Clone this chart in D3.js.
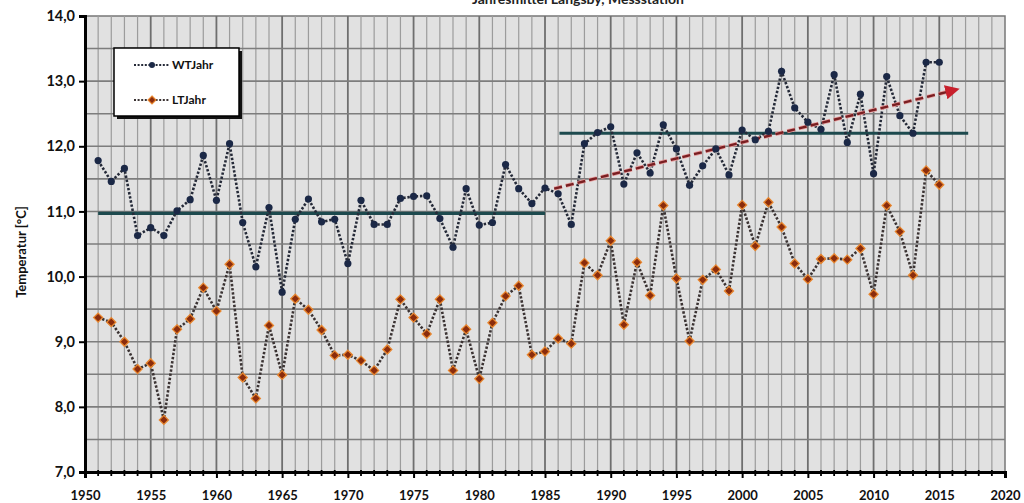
<!DOCTYPE html>
<html>
<head>
<meta charset="utf-8">
<script src="https://cdn.jsdelivr.net/npm/d3@7"></script>
<style>
  body { margin: 0; background: #fff; }
  text { font-family: Lato, "Liberation Sans", sans-serif; }
  .tick text { font-weight: bold; font-size: 13px; fill: #111; }
  .yax .tick text { font-size: 14.5px; }
</style>
</head>
<body>
<div id="chart"></div>
<script>
"use strict";

// years of the measurements
var years = d3.range(1951, 2016);

// WTJahr values, 1951-2015
var wtJahr = [11.78, 11.46, 11.66, 10.63, 10.75, 10.63, 11.01, 11.18, 11.86, 11.17,
  12.04, 10.83, 10.15, 11.06, 9.76, 10.88, 11.19, 10.84, 10.88, 10.20,
  11.17, 10.80, 10.80, 11.20, 11.23, 11.24, 10.89, 10.45, 11.35, 10.79,
  10.83, 11.72, 11.35, 11.12, 11.36, 11.27, 10.80, 12.04, 12.21, 12.30,
  11.42, 11.90, 11.59, 12.33, 11.96, 11.40, 11.70, 11.96, 11.56, 12.25,
  12.10, 12.23, 13.15, 12.59, 12.37, 12.26, 13.10, 12.06, 12.80, 11.58,
  13.07, 12.47, 12.20, 13.29, 13.29];

// LTJahr values, 1951-2015
var ltJahr = [9.37, 9.30, 9.00, 8.58, 8.67, 7.80, 9.19, 9.35, 9.83, 9.47,
  10.19, 8.45, 8.13, 9.25, 8.49, 9.66, 9.49, 9.18, 8.79, 8.80,
  8.71, 8.56, 8.88, 9.65, 9.37, 9.12, 9.65, 8.56, 9.19, 8.43,
  9.29, 9.70, 9.86, 8.80, 8.85, 9.05, 8.97, 10.21, 10.02, 10.55,
  9.26, 10.22, 9.71, 11.09, 9.97, 9.01, 9.95, 10.11, 9.78, 11.10,
  10.47, 11.14, 10.76, 10.20, 9.96, 10.27, 10.28, 10.26, 10.43, 9.73,
  11.09, 10.69, 10.02, 11.63, 11.41];

// mean levels [fromYear, toYear, value]
var meanLines = [[1951, 1985, 10.97], [1986.1, 2017.2, 12.20]];

// trend arrow [year, value]
var trend = [[1985.7, 11.35], [2015.7, 12.84]];

var seriesNames = ["WTJahr", "LTJahr"];
var xTicks = d3.range(1950, 2021, 5);
var yTicks = d3.range(7, 14.01, 1);

function drawChart(w, h) {
  var left = 85, right = 1005, top = 16, bottom = 472;

  var xScale = d3.scaleLinear().domain([1950, 2020]).range([left, right]);
  var yScale = d3.scaleLinear().domain([7, 14]).range([bottom, top]);

  var svg = d3.select("#chart")
    .append("svg")
    .attr("width", w)
    .attr("height", h);

  // title, mostly above the top edge like in the picture
  svg.append("text")
    .attr("x", 578)
    .attr("y", 4)
    .attr("text-anchor", "middle")
    .attr("font-size", 14)
    .attr("font-weight", "bold")
    .attr("fill", "#222")
    .text("Jahresmittel Langsby, Messstation");

  // plot background
  svg.append("rect")
    .attr("x", left)
    .attr("y", top)
    .attr("width", right - left)
    .attr("height", bottom - top)
    .attr("fill", "#e1e1e1")
    .attr("stroke", "#777")
    .attr("stroke-width", 1.5);

  // vertical grid, one line per year
  svg.append("g")
    .selectAll("line")
    .data(d3.range(1951, 2020))
    .join("line")
    .attr("x1", function (d) { return xScale(d); })
    .attr("x2", function (d) { return xScale(d); })
    .attr("y1", top)
    .attr("y2", bottom)
    .attr("stroke", function (d) { return d % 5 === 0 ? "#6f6f6f" : "#9c9c9c"; })
    .attr("stroke-width", function (d) { return d % 5 === 0 ? 1.8 : 1.2; });

  // horizontal grid every 0.5
  svg.append("g")
    .selectAll("line")
    .data(d3.range(7.5, 14, 0.5))
    .join("line")
    .attr("x1", left)
    .attr("x2", right)
    .attr("y1", function (d) { return yScale(d); })
    .attr("y2", function (d) { return yScale(d); })
    .attr("stroke", "#7d7d7d")
    .attr("stroke-width", 1.6);

  // axes
  var xAxis = d3.axisBottom(xScale)
    .tickValues(xTicks)
    .tickFormat(d3.format("d"))
    .tickSize(6)
    .tickPadding(13);

  var yAxis = d3.axisLeft(yScale)
    .tickValues(yTicks)
    .tickFormat(function (d) { return d3.format(".1f")(d).replace(".", ","); })
    .tickSize(6)
    .tickPadding(4);

  var gx = svg.append("g")
    .attr("transform", "translate(0," + bottom + ")")
    .call(xAxis);
  gx.select(".domain").attr("stroke", "#000").attr("stroke-width", 3);
  gx.selectAll(".tick line").attr("stroke", "#000").attr("stroke-width", 2);

  // minor year ticks on the x axis
  gx.append("g")
    .selectAll("line")
    .data(years.filter(function (d) { return d % 5 !== 0; }).concat(d3.range(2016, 2020)))
    .join("line")
    .attr("x1", function (d) { return xScale(d); })
    .attr("x2", function (d) { return xScale(d); })
    .attr("y1", -2)
    .attr("y2", 4)
    .attr("stroke", "#000")
    .attr("stroke-width", 1.8);

  var gy = svg.append("g")
    .attr("class", "yax")
    .attr("transform", "translate(" + left + ",0)")
    .call(yAxis);
  gy.select(".domain").attr("stroke", "#000").attr("stroke-width", 3);
  gy.selectAll(".tick line").attr("stroke", "#000").attr("stroke-width", 2);

  // y axis title
  svg.append("text")
    .attr("transform", "translate(26," + ((top + bottom) / 2 + 8) + ") rotate(-90)")
    .attr("text-anchor", "middle")
    .attr("font-size", 13)
    .attr("font-weight", "bold")
    .attr("fill", "#111")
    .text("Temperatur [°C]");

  // mean lines
  svg.append("g")
    .selectAll("line")
    .data(meanLines)
    .join("line")
    .attr("x1", function (d) { return xScale(d[0]); })
    .attr("x2", function (d) { return xScale(d[1]); })
    .attr("y1", function (d) { return yScale(d[2]); })
    .attr("y2", function (d) { return yScale(d[2]); })
    .attr("stroke", "#1d4a4e")
    .attr("stroke-width", 3.2);

  // line generators
  var line = d3.line()
    .x(function (d) { return xScale(d[0]); })
    .y(function (d) { return yScale(d[1]); });

  var wtData = years.map(function (y, i) { return [y, wtJahr[i]]; });
  var ltData = years.map(function (y, i) { return [y, ltJahr[i]]; });

  svg.append("path")
    .datum(ltData)
    .attr("d", line)
    .attr("fill", "none")
    .attr("stroke", "#3b3333")
    .attr("stroke-width", 2.6)
    .attr("stroke-dasharray", "2.4,1.8");

  svg.append("path")
    .datum(wtData)
    .attr("d", line)
    .attr("fill", "none")
    .attr("stroke", "#252a38")
    .attr("stroke-width", 2.6)
    .attr("stroke-dasharray", "2.4,1.8");

  // trend arrow
  svg.append("defs").append("marker")
    .attr("id", "arrow")
    .attr("viewBox", "0 0 10 10")
    .attr("refX", 2)
    .attr("refY", 5)
    .attr("markerWidth", 6)
    .attr("markerHeight", 6)
    .attr("orient", "auto")
    .append("path")
    .attr("d", "M0,0 L10,5 L0,10 Z")
    .attr("fill", "#c8202c");

  svg.append("path")
    .datum(trend)
    .attr("d", line)
    .attr("fill", "none")
    .attr("stroke", "#e8a0a0")
    .attr("stroke-width", 4)
    .attr("stroke-dasharray", "8,4");

  svg.append("path")
    .datum(trend)
    .attr("d", line)
    .attr("fill", "none")
    .attr("stroke", "#7a1f22")
    .attr("stroke-width", 2.4)
    .attr("stroke-dasharray", "8,4")
    .attr("marker-end", "url(#arrow)");

  // markers
  svg.append("g")
    .selectAll("path")
    .data(ltData)
    .join("path")
    .attr("d", d3.symbol(d3.symbolDiamond2, 52))
    .attr("transform", function (d) { return "translate(" + xScale(d[0]) + "," + yScale(d[1]) + ")"; })
    .attr("fill", "#8a2c0c")
    .attr("stroke", "#e8862e")
    .attr("stroke-width", 1.3);

  svg.append("g")
    .selectAll("circle")
    .data(wtData)
    .join("circle")
    .attr("cx", function (d) { return xScale(d[0]); })
    .attr("cy", function (d) { return yScale(d[1]); })
    .attr("r", 3.6)
    .attr("fill", "#1b2846");

  // legend
  var lg = svg.append("g").attr("transform", "translate(114,48)");
  lg.append("rect")
    .attr("x", 3).attr("y", 3)
    .attr("width", 125).attr("height", 68)
    .attr("fill", "#111");
  lg.append("rect")
    .attr("width", 125).attr("height", 68)
    .attr("fill", "#fff")
    .attr("stroke", "#000")
    .attr("stroke-width", 1.5);

  seriesNames.forEach(function (name, i) {
    var yy = 17 + i * 35;
    lg.append("line")
      .attr("x1", 20).attr("x2", 55)
      .attr("y1", yy).attr("y2", yy)
      .attr("stroke", i === 0 ? "#252a38" : "#3b3333")
      .attr("stroke-width", 2.2)
      .attr("stroke-dasharray", "2,1.6");
    if (i === 0) {
      lg.append("circle")
        .attr("cx", 38).attr("cy", yy).attr("r", 3)
        .attr("fill", "#1b2846");
    } else {
      lg.append("path")
        .attr("d", d3.symbol(d3.symbolDiamond2, 40))
        .attr("transform", "translate(38," + yy + ")")
        .attr("fill", "#8a2c0c")
        .attr("stroke", "#e8862e")
        .attr("stroke-width", 1.2);
    }
    lg.append("text")
      .attr("x", 58)
      .attr("y", yy + 4)
      .attr("font-size", 12)
      .attr("font-weight", "bold")
      .attr("fill", "#111")
      .text(name);
  });
}

function init() {
  var w = 1024;
  var h = 503;
  drawChart(w, h);
}

window.onload = init;
</script>
</body>
</html>
